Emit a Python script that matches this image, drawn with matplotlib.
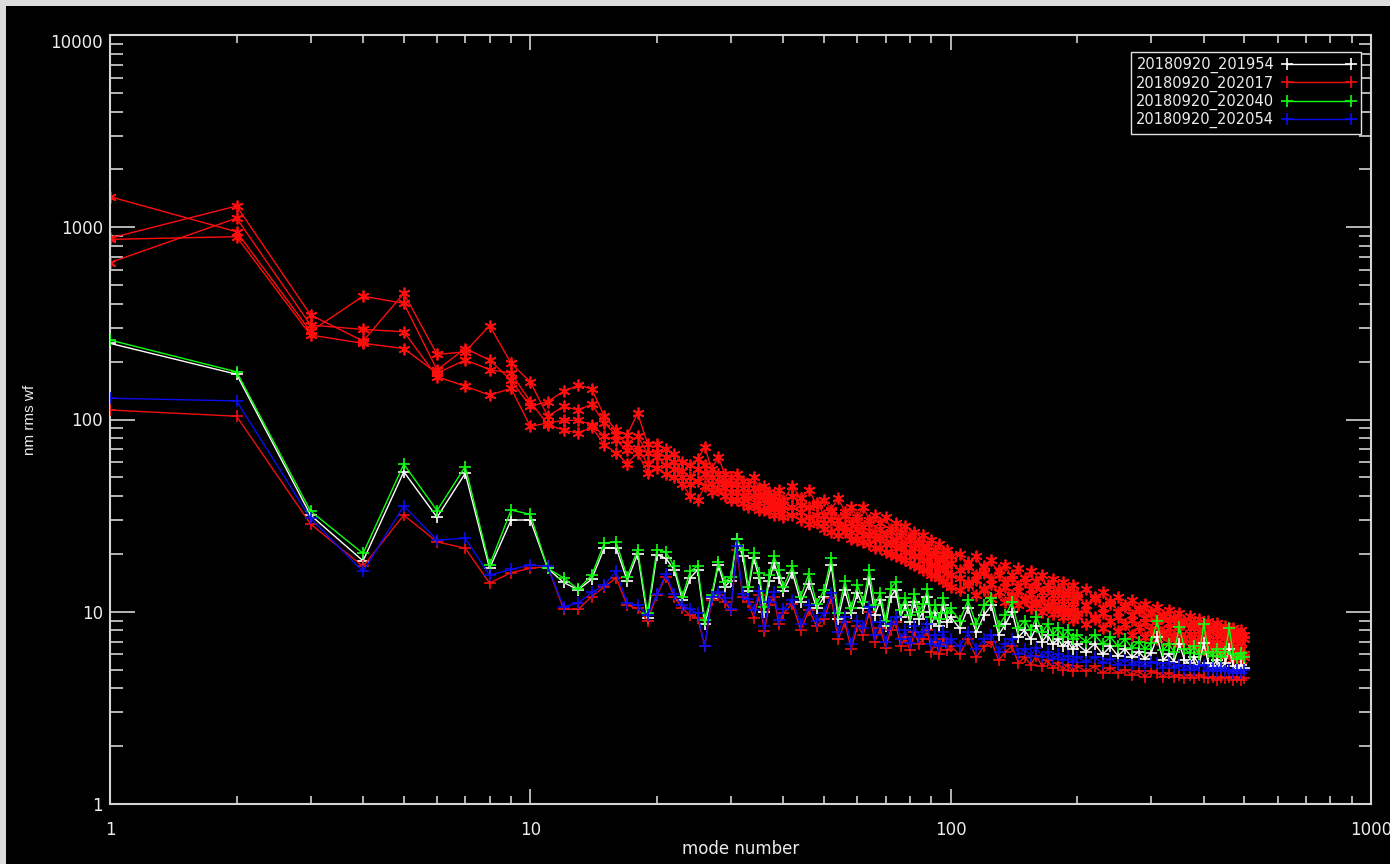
import numpy as np
import matplotlib
matplotlib.use('Agg')
import matplotlib.pyplot as plt
from matplotlib.patches import Rectangle
from matplotlib.ticker import LogLocator, NullFormatter, FuncFormatter

# ---------------- data ----------------
modes = (list(range(1, 41)) + list(range(42, 101, 2))
         + list(range(105, 201, 5)) + list(range(210, 501, 10)))

labels = ['20180920_201954', '20180920_202017', '20180920_202040', '20180920_202054']

white_vals = [249, 172, 31.8, 18.4, 53.5, 31.0, 52.5, 16.8, 30.0, 30.0,
              16.8, 14.2, 13.0, 14.8, 21.5, 21.5, 14.5, 20.0, 9.3, 19.8,
              19.0, 16.5, 11.5, 15.0, 16.5, 8.6, 11.8, 17.5, 13.5, 14.5,
              23.8, 19.5, 12.8, 19.0, 15.0, 10.0, 14.5, 18.0, 15.0, 12.8,
              16.0, 11.2, 14.0, 10.4, 12.0, 17.5, 9.2, 13.0, 9.8, 12.5,
              10.5, 14.8, 9.6, 11.5, 8.4, 12.0, 13.0, 9.4, 10.8, 8.8,
              11.2, 9.2, 10.0, 12.0, 8.6, 9.8, 8.4, 10.8, 8.8, 9.4,
              8.2, 10.5, 7.8, 9.6, 10.8, 7.6, 8.6, 10.0, 7.4, 8.0,
              7.2, 8.4, 7.0, 7.6, 6.8, 7.2, 6.6, 7.0, 6.4, 6.8,
              6.2, 6.8, 6.0, 6.6, 5.9, 6.4, 5.8, 6.2, 5.7, 6.1,
              7.4, 5.6, 6.0, 5.5, 6.8, 5.6, 5.4, 5.8, 5.3, 6.9,
              5.4, 5.2, 5.6, 5.1, 5.4, 6.4, 5.2, 5.0, 5.3, 5.1]

red_vals = [112, 104, 28.6, 17.2, 31.8, 23.1, 21.4, 14.1, 16.0, 16.8,
            17.2, 10.3, 10.3, 12.0, 13.5, 15.0, 10.8, 10.4, 9.0, 12.2,
            15.2, 12.0, 10.4, 9.6, 9.3, 6.6, 11.5, 12.2, 11.2, 10.2,
            21.0, 12.0, 11.2, 9.3, 12.2, 7.9, 10.8, 12.0, 8.6, 9.8,
            11.0, 8.0, 10.2, 8.4, 9.2, 11.8, 7.2, 8.8, 6.4, 8.4,
            7.6, 10.0, 7.0, 8.2, 6.5, 8.0, 8.8, 6.6, 7.4, 6.3,
            7.8, 6.8, 7.2, 8.0, 6.2, 7.0, 6.0, 7.2, 6.3, 6.6,
            6.0, 7.2, 5.8, 6.6, 7.0, 5.6, 6.2, 6.6, 5.4, 5.8,
            5.3, 5.9, 5.2, 5.6, 5.1, 5.4, 5.0, 5.3, 4.9, 5.2,
            4.9, 5.2, 4.8, 5.1, 4.8, 5.0, 4.7, 4.9, 4.6, 4.9,
            4.8, 4.6, 4.8, 4.6, 4.7, 4.5, 4.7, 4.5, 4.7, 4.6,
            4.5, 4.6, 4.4, 4.6, 4.5, 4.6, 4.4, 4.6, 4.4, 4.5]

green_vals = [259, 177, 33.4, 20.1, 58.6, 33.6, 56.9, 17.5, 33.8, 32.1,
              16.8, 15.0, 13.1, 15.5, 22.8, 23.1, 15.2, 21.0, 9.8, 21.0,
              20.5, 17.2, 12.0, 16.2, 17.3, 9.1, 12.2, 18.2, 14.3, 15.2,
              23.8, 21.0, 13.5, 20.1, 16.0, 10.6, 15.5, 19.5, 16.5, 13.5,
              17.2, 12.0, 15.8, 11.0, 13.0, 19.0, 9.8, 14.5, 10.5, 13.8,
              11.2, 16.5, 10.8, 12.5, 9.0, 13.2, 14.3, 10.2, 11.8, 9.6,
              12.4, 10.0, 11.0, 13.1, 9.4, 10.8, 9.2, 11.8, 9.8, 10.4,
              9.0, 11.5, 8.6, 10.8, 11.8, 8.4, 9.6, 11.2, 8.2, 9.0,
              8.0, 9.4, 7.8, 8.6, 7.6, 8.2, 7.4, 8.0, 7.2, 7.6,
              7.0, 7.6, 6.8, 7.4, 6.6, 7.2, 6.5, 7.0, 6.4, 6.9,
              8.9, 6.3, 6.8, 6.2, 8.3, 6.4, 6.1, 6.6, 6.0, 8.6,
              6.2, 5.9, 6.4, 5.8, 6.2, 8.2, 6.0, 5.7, 6.1, 5.8]

blue_vals = [129, 125, 30.6, 16.2, 35.5, 23.6, 24.1, 15.5, 16.6, 17.5,
             17.2, 10.6, 11.1, 12.6, 13.8, 16.2, 11.1, 10.8, 9.6, 12.3,
             15.8, 12.3, 10.8, 10.3, 9.8, 6.6, 12.0, 12.6, 11.8, 10.3,
             22.0, 12.3, 11.6, 10.2, 12.8, 8.4, 11.2, 12.6, 9.1, 10.3,
             11.5, 8.6, 10.8, 9.0, 9.8, 12.5, 7.8, 9.4, 6.8, 9.0,
             8.2, 10.6, 7.6, 8.8, 7.0, 8.6, 9.4, 7.2, 8.0, 6.9,
             8.4, 7.4, 7.8, 8.6, 6.8, 7.6, 6.6, 7.8, 6.9, 7.2,
             6.6, 7.8, 6.4, 7.2, 7.6, 6.2, 6.8, 7.2, 6.0, 6.4,
             5.9, 6.5, 5.8, 6.2, 5.7, 6.0, 5.6, 5.9, 5.5, 5.8,
             5.5, 5.8, 5.4, 5.7, 5.3, 5.6, 5.3, 5.5, 5.2, 5.5,
             5.4, 5.1, 5.4, 5.1, 5.3, 5.0, 5.2, 5.0, 5.2, 5.3,
             4.9, 5.1, 4.9, 5.1, 4.9, 5.0, 4.8, 5.0, 4.8, 5.0]

star_a = [1442, 948, 287, 438, 402, 181, 234, 204, 160, 117,
          124, 140, 151, 144, 104, 88, 83, 108, 75, 75,
          70, 66, 60, 58, 62, 72, 55, 64, 52, 50,
          52, 48, 46, 50, 44, 45, 42, 40, 43, 38,
          45, 39, 43, 36, 38, 34, 39, 33, 35, 31,
          35, 30, 32, 29, 31, 27, 29, 26, 28, 24.5,
          26, 23, 25, 22, 23.5, 21, 22.5, 20, 21, 19.5,
          20, 17, 19.5, 16, 18.5, 15.5, 17.5, 14.8, 16.8, 14.2,
          16.2, 13.6, 15.5, 13.2, 14.8, 12.6, 14.2, 12.4, 13.8, 12,
          13.2, 11.6, 12.6, 11.0, 12.0, 10.6, 11.5, 10.2, 11.0, 9.8,
          10.6, 9.4, 10.2, 9.1, 9.8, 8.8, 9.5, 8.6, 9.2, 8.4,
          8.9, 8.2, 8.7, 8.0, 8.4, 7.8, 8.2, 7.6, 8.0, 7.6]

star_b = [877, 1290, 350, 256, 453, 218, 225, 308, 196, 157,
          104, 117, 112, 120, 96, 83, 75, 82, 67, 68,
          64, 60, 54, 50, 55, 58, 50, 52, 47, 46,
          46, 44, 42, 44, 40, 41, 39, 37, 38, 36,
          40, 36, 35, 37, 32, 33, 30, 32, 29, 30,
          27.5, 29, 26, 27, 25, 26, 23.5, 25, 22.5, 23.5,
          21.5, 22.5, 20.5, 21, 19.5, 20, 18.5, 19, 17.5, 18,
          16.5, 18.2, 15.5, 17.2, 14.8, 16.5, 14.2, 15.6, 13.6, 15,
          13.2, 14.4, 12.6, 13.8, 12.2, 13.2, 11.8, 12.8, 11.4, 12.4,
          10.8, 12.0, 10.4, 11.4, 10.0, 10.9, 9.6, 10.4, 9.3, 10.0,
          9.0, 9.6, 8.7, 9.3, 8.4, 9.0, 8.2, 8.7, 7.9, 8.4,
          7.7, 8.1, 7.5, 7.9, 7.3, 7.6, 7.1, 7.4, 6.9, 7.2]

star_c = [655, 1115, 310, 294, 286, 167, 149, 134, 145, 92,
          96, 99, 99, 94, 82, 78, 69, 71, 59, 64,
          58, 55, 50, 46, 48, 52, 46, 48, 44, 42,
          42, 40, 39, 40, 37, 38, 36, 35, 36, 34,
          35, 33, 31, 32, 29, 30, 27.5, 28, 26, 27,
          25, 25.5, 24, 24.5, 22.5, 23, 21.5, 22, 20.5, 20.5,
          19.5, 19.5, 18.5, 18.5, 17.5, 17.5, 16.5, 17, 16, 15.5,
          15, 13.8, 14.6, 13, 14, 12.6, 13.4, 12.2, 12.8, 11.6,
          12.4, 11.2, 11.8, 10.8, 11.4, 10.4, 11, 10.1, 10.6, 9.8,
          10.2, 9.2, 9.8, 8.9, 9.4, 8.6, 9.1, 8.3, 8.8, 8.0,
          8.5, 7.8, 8.2, 7.5, 7.9, 7.3, 7.7, 7.1, 7.4, 6.9,
          7.2, 6.7, 7.0, 6.5, 6.8, 6.3, 6.6, 6.2, 6.4, 6.0]

star_d = [865, 893, 275, 249, 234, 174, 204, 182, 174, 124,
          94, 88, 85, 91, 74, 67, 59, 67, 53, 56,
          52, 50, 46, 40, 38, 45, 42, 43, 40, 38,
          38, 37, 35, 36, 34, 34, 33, 32, 33, 31,
          32, 30, 28.5, 29, 27, 26, 25, 26, 24, 23.5,
          23, 22.5, 21.5, 21.5, 20.5, 20, 19.5, 19, 18.5, 18,
          17.5, 17, 16.5, 16.5, 15.5, 15.5, 15, 14.5, 14, 13.5,
          13, 14.2, 12.2, 13.2, 11.6, 12.6, 11.2, 12, 10.8, 11.5,
          10.4, 11, 10, 10.6, 9.7, 10.2, 9.4, 9.8, 9.1, 9.5,
          8.6, 9.4, 8.2, 9.0, 7.9, 8.6, 7.6, 8.3, 7.4, 8.0,
          7.2, 7.7, 7.0, 7.4, 6.8, 7.2, 6.6, 7.0, 6.4, 6.8,
          6.2, 6.6, 6.0, 6.4, 5.9, 6.2, 5.7, 6.0, 5.6, 5.8]

for s in (white_vals, red_vals, green_vals, blue_vals, star_a, star_b, star_c, star_d):
    assert len(s) == len(modes), (len(s), len(modes))

# ---------------- style ----------------
AXC = '#d4d4d4'
TXT = '#ececec'
W, H = 1390, 864

fig = plt.figure(figsize=(W / 100, H / 100), dpi=100, facecolor='black')
ax = fig.add_axes([110 / W, 1 - 804 / H, (1371 - 110) / W, (804 - 35) / H])
ax.set_facecolor('black')
ax.set_xscale('log')
ax.set_yscale('log')
ax.set_xlim(1, 1000)
ax.set_ylim(1, 10000)

star_marker = (6, 2, 0)
for s in (star_a, star_b, star_c, star_d):
    ax.plot(modes, s, color='#ff0d0d', lw=1.0, marker=star_marker, ms=8.5,
            mew=1.3, mec='#ff0d0d', zorder=2)

plus_colors = ['#ffffff', '#f01010', '#10ff10', '#0c0cf0']
handles = []
for vals, col, lab, z in zip((white_vals, red_vals, green_vals, blue_vals),
                             plus_colors, labels, (3, 4, 5, 6)):
    h, = ax.plot(modes, vals, color=col, lw=1.0, marker='+', ms=8.5,
                 mew=1.2, zorder=z, label=lab)
    handles.append(h)

for sp in ax.spines.values():
    sp.set_color(AXC)
    sp.set_linewidth(1.5)

ax.yaxis.set_major_locator(LogLocator(base=10, numticks=10))
ax.yaxis.set_minor_locator(LogLocator(base=10, subs=np.arange(2, 10), numticks=30))
ax.xaxis.set_major_locator(LogLocator(base=10, numticks=10))
ax.xaxis.set_minor_locator(LogLocator(base=10, subs=np.arange(2, 10), numticks=30))
ax.xaxis.set_minor_formatter(NullFormatter())
ax.yaxis.set_minor_formatter(NullFormatter())
ax.xaxis.set_major_formatter(FuncFormatter(lambda v, p: f'{int(round(v))}'))
ax.yaxis.set_major_formatter(FuncFormatter(lambda v, p: '' if v > 9999 else f'{int(round(v))}'))

ax.tick_params(axis='y', which='major', direction='in', length=18, width=1.2,
               color=AXC, left=True, right=True, labelsize=12, labelcolor=TXT, pad=5)
ax.tick_params(axis='y', which='minor', direction='in', length=9, width=1.2,
               color=AXC, left=True, right=True)
ax.tick_params(axis='x', which='major', direction='in', length=11, width=1.2,
               color=AXC, bottom=True, top=True, labelsize=12, labelcolor=TXT, pad=12)
ax.tick_params(axis='x', which='minor', direction='in', length=5.5, width=1.2,
               color=AXC, bottom=True, top=True)

ax.annotate('10000', xy=(0, 1), xycoords='axes fraction', xytext=(-7, -8),
            textcoords='offset pixels', ha='right', va='center', fontsize=12, color=TXT)

xl = ax.set_xlabel('mode number', fontsize=12, color=TXT)
ax.xaxis.set_label_coords(0.5, -(849 - 804) / 769)
xl.set_va('center')
yl = ax.set_ylabel('nm rms wf', fontsize=11, color=TXT,
                   family=['Liberation Sans', 'DejaVu Sans'])
ax.yaxis.set_label_coords((30 - 110) / 1261, 0.5)
yl.set_va('center')

leg = ax.legend(handles=handles, loc='upper right', bbox_to_anchor=(0.992, 0.978),
                borderaxespad=0, markerfirst=False, numpoints=2, handlelength=5,
                handletextpad=0.6, borderpad=0.35, labelspacing=0.15, frameon=True,
                fancybox=False, facecolor='black', edgecolor='#e0e0e0', framealpha=1,
                fontsize=10.5, labelcolor=TXT)
leg.get_frame().set_linewidth(1.0)
leg.set_zorder(10)

# light grey screenshot border (top and left)
fig.add_artist(Rectangle((0, 1 - 6 / H), 1, 6 / H, transform=fig.transFigure,
                         facecolor='#dcdcdc', edgecolor='none', zorder=20))
fig.add_artist(Rectangle((0, 0), 6 / W, 1, transform=fig.transFigure,
                         facecolor='#dcdcdc', edgecolor='none', zorder=20))

fig.savefig('out.png', dpi=100, facecolor='black')
